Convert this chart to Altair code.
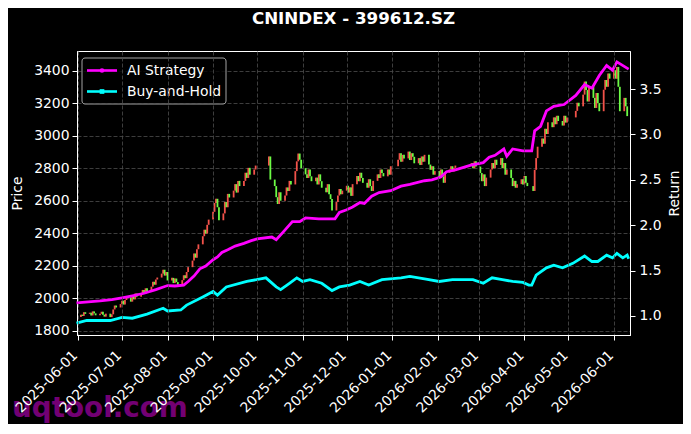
import altair as alt
import pandas as pd
import numpy as np

TITLE = "CNINDEX - 399612.SZ"
RED = "#f2524a"
GREEN = "#6cfb45"
MAGENTA = "#ff00ff"
CYAN = "#00ffff"

# Trading calendar (weekdays minus exchange holidays)
holidays = ["2025-06-02", "2025-10-01", "2025-10-02", "2025-10-03", "2025-10-06",
            "2025-10-07", "2025-10-08", "2026-01-01", "2026-01-02", "2026-02-16",
            "2026-02-17", "2026-02-18", "2026-02-19", "2026-02-20", "2026-02-23",
            "2026-04-06", "2026-05-01", "2026-05-04", "2026-05-05"]

first_open = 1885
close = [
    1900, 1892, 1915, 1905,
    1912, 1895, 1920, 1908, 1896,
    1905, 1918, 1900, 1888, 1906,
    1885, 1902, 1932, 1956, 1944,
    1965, 1986, 1962, 1990, 2006,
    1980, 2016, 1994, 2030, 2010,
    2026, 2052, 2030, 2062, 2044,
    2072, 2102, 2084, 2116, 2128,
    2152, 2176, 2140, 2162, 2110,
    2126, 2094, 2122, 2100, 2084,
    2112, 2142, 2124, 2162, 2192,
    2232, 2276, 2250, 2302, 2332,
    2382, 2422, 2398, 2452, 2484,
    2532, 2586, 2612, 2560, 2480,
    2522, 2592, 2560, 2642, 2620,
    2662, 2702, 2650, 2722, 2690,
    2722, 2772, 2740, 2802, 2760,
    2792, 2816,
    2872, 2730,
    2690, 2622, 2580, 2652, 2600,
    2632, 2682, 2660, 2722, 2700,
    2782, 2842, 2890, 2852, 2800,
    2762, 2740, 2792, 2750, 2720,
    2742, 2700, 2762, 2720, 2680,
    2652, 2702, 2640, 2610, 2540,
    2592, 2632, 2672, 2640, 2662,
    2692, 2650, 2682, 2630, 2702,
    2752, 2720, 2772, 2740, 2710,
    2680, 2732, 2690, 2660, 2722,
    2762, 2740, 2792, 2770, 2750,
    2792, 2760, 2812,
    2852, 2892, 2840, 2882, 2860,
    2902, 2850, 2892, 2870, 2830,
    2862, 2820, 2872, 2840, 2882,
    2822, 2790, 2812, 2760, 2782,
    2740, 2792, 2750, 2710, 2772,
    2792, 2812, 2780, 2802, 2816,
    2832, 2800, 2842, 2810,
    2770, 2720, 2762, 2690, 2742,
    2792, 2832, 2800, 2852, 2820,
    2862, 2800, 2832, 2760, 2792,
    2740, 2690, 2722, 2680, 2702,
    2732, 2700, 2752, 2710, 2690,
    2660, 2790, 2862, 2932,
    2982, 2950, 3042, 3010, 3082,
    3052, 3112, 3070, 3122, 3090,
    3062, 3122, 3080, 3112,
    3152, 3202, 3180,
    3252, 3332, 3280, 3210, 3302,
    3232, 3170, 3262, 3200, 3150,
    3282, 3342, 3300, 3382, 3350,
    3402, 3350, 3422, 3300, 3150,
    3232, 3180, 3120,
]

ai_dates = ["2025-05-31", "2025-06-08", "2025-06-16", "2025-06-24", "2025-07-01", "2025-07-08",
            "2025-07-16", "2025-07-24", "2025-08-01", "2025-08-06", "2025-08-12", "2025-08-15",
            "2025-08-19", "2025-08-23", "2025-08-27", "2025-09-01", "2025-09-04", "2025-09-07",
            "2025-09-11", "2025-09-16", "2025-09-22", "2025-09-27", "2025-10-01", "2025-10-11",
            "2025-10-14", "2025-10-19", "2025-10-25", "2025-10-30", "2025-11-03", "2025-11-12",
            "2025-11-23", "2025-11-26", "2025-12-01", "2025-12-05", "2025-12-10", "2025-12-13",
            "2025-12-18", "2025-12-23", "2025-12-31", "2026-01-07", "2026-01-13", "2026-01-23",
            "2026-01-28", "2026-02-03", "2026-02-07", "2026-02-13", "2026-02-23", "2026-03-04",
            "2026-03-08", "2026-03-12", "2026-03-18", "2026-03-20", "2026-03-24", "2026-03-31",
            "2026-04-06", "2026-04-08", "2026-04-12", "2026-04-16", "2026-04-21", "2026-04-28",
            "2026-05-06", "2026-05-12", "2026-05-17", "2026-05-22", "2026-05-27", "2026-05-31",
            "2026-06-03", "2026-06-11"]
ai_values = [1.145, 1.155, 1.166, 1.18, 1.20, 1.222,
             1.25, 1.29, 1.335, 1.33, 1.34, 1.38,
             1.44, 1.52, 1.55, 1.62, 1.65, 1.70,
             1.73, 1.77, 1.80, 1.83, 1.85, 1.87,
             1.84, 1.93, 2.04, 2.04, 2.08, 2.07,
             2.07, 2.14, 2.17, 2.20, 2.25, 2.24,
             2.32, 2.36, 2.38, 2.43, 2.45, 2.49,
             2.50, 2.53, 2.59, 2.61, 2.66, 2.69,
             2.75, 2.77, 2.84, 2.76, 2.84, 2.82,
             2.82, 3.04, 3.09, 3.26, 3.31, 3.33,
             3.43, 3.55, 3.51, 3.65, 3.76, 3.71,
             3.80, 3.72]

bh_dates = ["2025-05-31", "2025-06-07", "2025-06-23", "2025-07-01", "2025-07-08", "2025-07-18",
            "2025-07-29", "2025-08-01", "2025-08-10", "2025-08-14", "2025-08-25", "2025-09-01",
            "2025-09-04", "2025-09-10", "2025-09-24", "2025-10-07", "2025-10-14", "2025-10-17",
            "2025-10-23", "2025-10-28", "2025-11-01", "2025-11-06", "2025-11-14", "2025-11-21",
            "2025-11-26", "2025-12-03", "2025-12-10", "2025-12-16", "2025-12-25", "2026-01-07",
            "2026-01-13", "2026-01-24", "2026-02-02", "2026-02-11", "2026-02-25", "2026-03-04",
            "2026-03-10", "2026-03-17", "2026-03-24", "2026-03-31", "2026-04-04", "2026-04-06",
            "2026-04-09", "2026-04-16", "2026-04-21", "2026-04-27", "2026-05-04", "2026-05-12",
            "2026-05-17", "2026-05-21", "2026-05-27", "2026-05-31", "2026-06-03", "2026-06-07",
            "2026-06-10", "2026-06-11"]
bh_values = [0.92, 0.95, 0.95, 0.985, 0.975, 1.02,
             1.085, 1.055, 1.066, 1.12, 1.21, 1.27,
             1.23, 1.32, 1.38, 1.42, 1.32, 1.29,
             1.36, 1.42, 1.38, 1.40, 1.36, 1.28,
             1.32, 1.34, 1.38, 1.34, 1.40, 1.42,
             1.435, 1.405, 1.38, 1.40, 1.40, 1.36,
             1.42, 1.40, 1.38, 1.37, 1.34, 1.34,
             1.45, 1.53, 1.56, 1.53, 1.58, 1.66,
             1.60, 1.60, 1.67, 1.64, 1.69, 1.64,
             1.67, 1.63]

series_names = ["AI Strategy", "Buy-and-Hold"]
month_ticks = ["2025-06-01", "2025-07-01", "2025-08-01", "2025-09-01", "2025-10-01",
               "2025-11-01", "2025-12-01", "2026-01-01", "2026-02-01", "2026-03-01",
               "2026-04-01", "2026-05-01", "2026-06-01"]
price_ticks = [1800, 2000, 2200, 2400, 2600, 2800, 3000, 3200, 3400]
return_ticks = [1.0, 1.5, 2.0, 2.5, 3.0, 3.5]
watermark = "uqtool.com"

# ---- build tables ----
bdays = pd.bdate_range("2025-06-03", "2026-06-10")
bdays = [d for d in bdays if d.strftime("%Y-%m-%d") not in set(holidays)]
if len(bdays) != len(close):
    raise ValueError(f"dates {len(bdays)} vs closes {len(close)}")
opens = [first_open] + close[:-1]
cdf = pd.DataFrame({
    "date": [d.strftime("%Y-%m-%d") for d in bdays],
    "open": opens,
    "close": close,
})
cdf["low"] = cdf[["open", "close"]].min(axis=1)
cdf["high"] = cdf[["open", "close"]].max(axis=1)
cdf["dir"] = np.where(cdf["close"] >= cdf["open"], "up", "down")

ldf = pd.concat([
    pd.DataFrame({"date": ai_dates, "value": ai_values, "series": series_names[0]}),
    pd.DataFrame({"date": bh_dates, "value": bh_values, "series": series_names[1]}),
], ignore_index=True)


def dt(s, h=0):
    y, m, d = (int(v) for v in s.split("-"))
    return alt.DateTime(year=y, month=m, date=d, hours=h, utc=True)


FONT = "DejaVu Sans"
W, H = 553, 284
xscale = alt.Scale(type="utc", domain=[dt("2025-05-31", 8), dt("2026-06-11", 22)])
xaxis = alt.Axis(values=[dt(s) for s in month_ticks],
                 labelExpr="utcFormat(datum.value, '%Y-%m-%d')",
                 labelAngle=-45, labelAlign="right", labelBaseline="middle",
                 labelPadding=13, labelOffset=-3, title=None, grid=True, zindex=1,
                 labelOverlap=False, labelFlush=False, labelBound=False)

cand = alt.Chart(cdf).mark_rule(strokeWidth=1.8).encode(
    x=alt.X("date:T", scale=xscale, axis=xaxis),
    y=alt.Y("low:Q",
            scale=alt.Scale(domain=[1775, 3520], nice=False, zero=False),
            axis=alt.Axis(orient="left", title="Price", values=price_ticks, grid=True,
                          format="d", labelPadding=3,
                          titleX=-60, titleY=H / 2, titleAngle=270,
                          titleAlign="center", titleBaseline="middle")),
    y2="high:Q",
    color=alt.Color("dir:N", scale=alt.Scale(domain=["up", "down"], range=[RED, GREEN]), legend=None),
)

lines = alt.Chart(ldf).mark_line(strokeWidth=2.8).encode(
    x=alt.X("date:T", scale=xscale, axis=xaxis),
    y=alt.Y("value:Q",
            scale=alt.Scale(domain=[0.79, 3.92], nice=False, zero=False),
            axis=alt.Axis(orient="right", title="Return", values=return_ticks, format=".1f",
                          grid=False, labelPadding=4,
                          titleX=44, titleY=H / 2, titleAngle=270,
                          titleAlign="center", titleBaseline="middle")),
    color=alt.Color("series:N", scale=alt.Scale(domain=series_names, range=[MAGENTA, CYAN]), legend=None),
)

one = pd.DataFrame({"k": [0]})
leg_box = alt.Chart(one).mark_rect(fill="black", fillOpacity=0.8, stroke="#cccccc",
                                   strokeOpacity=0.8, strokeWidth=1, cornerRadius=3).encode(
    x=alt.value(5), x2=alt.value(149), y=alt.value(7), y2=alt.value(53))

leg_layers = []
for name, col, shape, yy in [(series_names[0], MAGENTA, "circle", 19.5),
                             (series_names[1], CYAN, "square", 40.5)]:
    d = pd.DataFrame({"label": [name]})
    leg_layers.append(alt.Chart(d).mark_rule(color=col, strokeWidth=2.6).encode(
        x=alt.value(10), x2=alt.value(40), y=alt.value(yy)))
    leg_layers.append(alt.Chart(d).mark_point(shape=shape, filled=True, color=col, size=22, opacity=1).encode(
        x=alt.value(25), y=alt.value(yy)))
    leg_layers.append(alt.Chart(d).mark_text(align="left", baseline="middle", font=FONT,
                                             fontSize=13.9, color="white").encode(
        x=alt.value(50), y=alt.value(yy), text="label:N"))

title_mark = alt.Chart(pd.DataFrame({"t": [TITLE]})).mark_text(
    align="center", baseline="alphabetic", font=FONT, fontSize=16.7, fontWeight="bold",
    color="white").encode(x=alt.value(W / 2), y=alt.value(-27), text="t:N")

wm = alt.Chart(pd.DataFrame({"t": [watermark]})).mark_text(
    align="left", baseline="alphabetic", font=FONT, fontSize=27.8, fontWeight="bold",
    color="#800080", opacity=0.9).encode(x=alt.value(-65), y=alt.value(366), text="t:N")

chart = alt.layer(cand, lines, leg_box, *leg_layers, title_mark, wm).resolve_scale(
    y="independent", color="independent"
).properties(
    width=W, height=H,
    padding={"left": 69, "top": 43, "right": 53, "bottom": 89},
    autosize=alt.AutoSizeParams(type="none"),
    background="black",
).configure_view(
    stroke="white", strokeWidth=1
).configure_axis(
    domainColor="white", tickColor="white", labelColor="white", titleColor="white",
    labelFont=FONT, titleFont=FONT, labelFontSize=13.9, titleFontSize=13.9,
    titleFontWeight="normal", tickSize=5, gridColor="#4d4d4d", gridDash=[4, 2],
    gridWidth=0.8, domainWidth=1,
)

chart.save("out.html", embed_options={"renderer": "svg", "actions": False})
